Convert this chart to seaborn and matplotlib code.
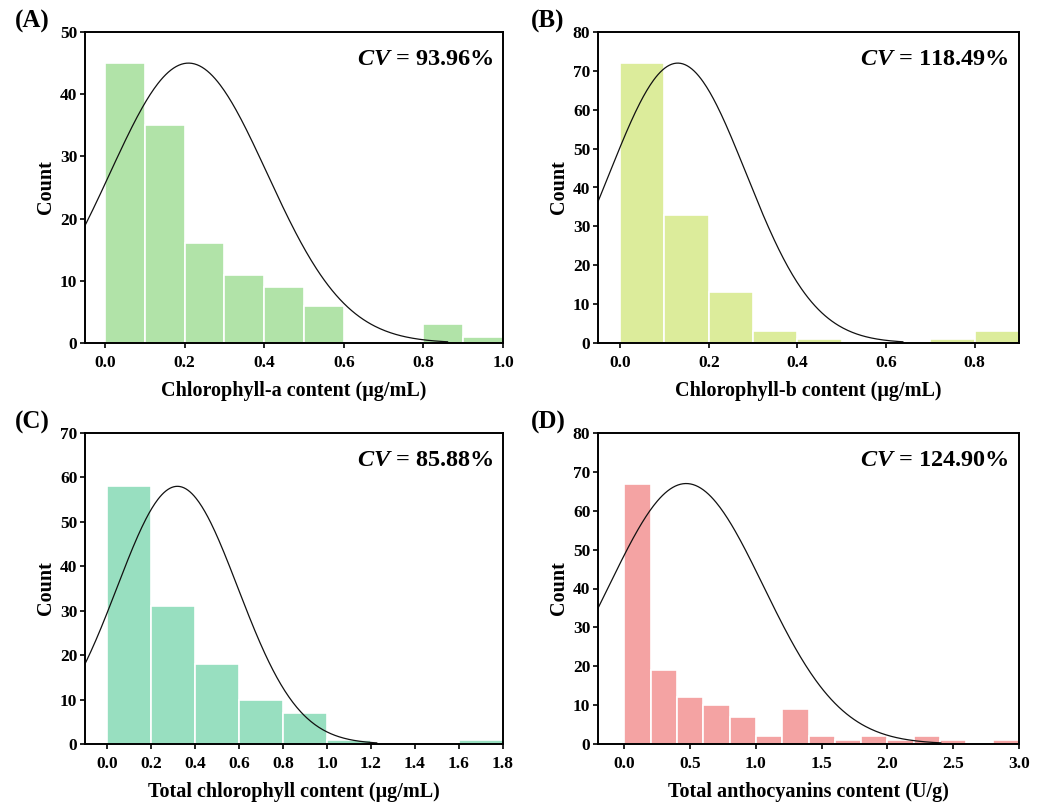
import numpy as np
import pandas as pd
import seaborn as sns
import matplotlib
matplotlib.use("Agg")
import matplotlib.pyplot as plt

sns.set_theme(style="white")
plt.rcParams["font.family"] = ["Liberation Serif", "DejaVu Serif"]
plt.rcParams["mathtext.fontset"] = "custom"
plt.rcParams["mathtext.it"] = "Liberation Serif:italic:bold"
plt.rcParams["mathtext.rm"] = "Liberation Serif:bold"
for key in ["text.color", "axes.labelcolor", "xtick.color", "ytick.color"]:
    plt.rcParams[key] = "black"

# ---- data -------------------------------------------------------------
panel_tags = ["(A)", "(B)", "(C)", "(D)"]
x_titles = [
    "Chlorophyll-a content (μg/mL)",
    "Chlorophyll-b content (μg/mL)",
    "Total chlorophyll content (μg/mL)",
    "Total anthocyanins content (U/g)",
]
bin_width = [0.1, 0.1, 0.2, 0.2]
counts_a = [45, 35, 16, 11, 9, 6, 0, 0, 3, 1]
counts_b = [72, 33, 13, 3, 1, 0, 0, 1, 3]
counts_c = [58, 31, 18, 10, 7, 1, 0, 0, 1]
counts_d = [67, 19, 12, 10, 7, 2, 9, 2, 1, 2, 1, 2, 1, 0, 1]
all_counts = [counts_a, counts_b, counts_c, counts_d]
means = [0.21, 0.13, 0.32, 0.47]
cv_values = [93.96, 118.49, 85.88, 124.90]
colors = ["#b1e3a8", "#dcec9b", "#98dfc0", "#f4a3a3"]
x_limits = [(-0.05, 1.0), (-0.05, 0.9), (-0.1, 1.8), (-0.2, 3.0)]
x_ticks = [
    [0.0, 0.2, 0.4, 0.6, 0.8, 1.0],
    [0.0, 0.2, 0.4, 0.6, 0.8],
    [0.0, 0.2, 0.4, 0.6, 0.8, 1.0, 1.2, 1.4, 1.6, 1.8],
    [0.0, 0.5, 1.0, 1.5, 2.0, 2.5, 3.0],
]
y_limits = [50, 80, 70, 80]
y_steps = [10, 10, 10, 10]

# ---- layout ------------------------------------------------------------
W, H = 1042, 802
fig = plt.figure(figsize=(W / 100, H / 100), dpi=100)
boxes = [(85, 32, 503, 343), (598, 32, 1019, 343),
         (85, 433, 503, 744), (598, 433, 1019, 744)]
tag_pos = [(15, 21), (531, 21), (15, 422), (531, 422)]

for i in range(4):
    l, t, r, b = boxes[i]
    ax = fig.add_axes([l / W, 1 - b / H, (r - l) / W, (b - t) / H])
    w = bin_width[i]
    cnt = np.array(all_counts[i], dtype=float)
    n_bins = len(cnt)
    centers = (np.arange(n_bins) + 0.5) * w
    df = pd.DataFrame({"value": centers, "n": cnt})
    sns.histplot(data=df, x="value", weights="n", binwidth=w,
                 binrange=(0, n_bins * w), ax=ax,
                 color=colors[i], alpha=1.0, edgecolor="white",
                 linewidth=1.2)

    # normal curve scaled to the tallest bar
    mu = means[i]
    sd = mu * cv_values[i] / 100
    xs = np.linspace(mu - 3.3 * sd, mu + 3.3 * sd, 400)
    ys = cnt.max() * np.exp(-0.5 * ((xs - mu) / sd) ** 2)
    curve = pd.DataFrame({"x": xs, "y": ys})
    sns.lineplot(data=curve, x="x", y="y", ax=ax, color="#111111",
                 linewidth=0.9, sort=False)

    ax.set_xlim(*x_limits[i])
    ax.set_ylim(0, y_limits[i])
    ax.set_xticks(x_ticks[i])
    ax.set_xticklabels([f"{v:.1f}" for v in x_ticks[i]])
    ax.set_yticks(np.arange(0, y_limits[i] + 1, y_steps[i]))
    ax.tick_params(axis="both", direction="out", length=3.5, width=1.2,
                   labelsize=12.5, pad=2, bottom=True, left=True)
    ax.tick_params(axis="x", pad=5)
    for lab in ax.get_xticklabels() + ax.get_yticklabels():
        lab.set_fontweight("bold")
    for sp in ax.spines.values():
        sp.set_linewidth(1.4)
        sp.set_color("black")
    ax.set_xlabel(x_titles[i], fontsize=14.5, fontweight="bold", labelpad=7)
    ax.set_ylabel("Count", fontsize=14.5, fontweight="bold", labelpad=3)
    ax.text(0.977, 0.91, r"$\mathit{CV}$" + f" = {cv_values[i]:.2f}%",
            transform=ax.transAxes, ha="right", va="center",
            fontsize=17.5, fontweight="bold")
    tx, ty = tag_pos[i]
    fig.text(tx / W, 1 - ty / H, panel_tags[i], ha="left", va="center",
             fontsize=18, fontweight="bold")

fig.savefig("out.png", dpi=100)
